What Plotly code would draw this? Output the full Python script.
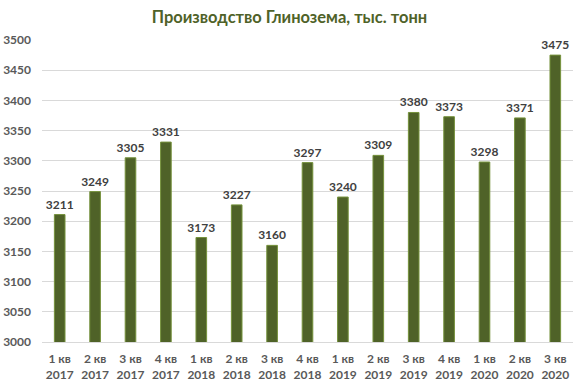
import plotly.graph_objects as go

quarters = ["1 кв", "2 кв", "3 кв", "4 кв", "1 кв", "2 кв", "3 кв", "4 кв",
            "1 кв", "2 кв", "3 кв", "4 кв", "1 кв", "2 кв", "3 кв"]
years = ["2017", "2017", "2017", "2017", "2018", "2018", "2018", "2018",
         "2019", "2019", "2019", "2019", "2020", "2020", "2020"]
values = [3211, 3249, 3305, 3331, 3173, 3227, 3160, 3297,
          3240, 3309, 3380, 3373, 3298, 3371, 3475]

categories = [f"{q}<br>{y}" for q, y in zip(quarters, years)]
x_idx = list(range(len(values)))

fig = go.Figure(go.Bar(
    x=x_idx, y=values, width=0.3,
    marker=dict(color="#4F6228", line=dict(color="#76923C", width=1)),
    text=[f"<b>{v}</b>" for v in values], textposition="outside",
    constraintext="none",
    textfont=dict(family="Lato", size=12, color="#404040"),
    cliponaxis=False,
))

fig.update_layout(
    width=579, height=385,
    margin=dict(l=42, r=6, t=40, b=43),
    paper_bgcolor="white", plot_bgcolor="white",
    title=dict(text="<b>Производство Глинозема, тыс. тонн</b>", x=0.5, xanchor="center",
               y=0.955, yanchor="middle",
               font=dict(family="Lato", size=16.5, color="#4F6228")),
    showlegend=False,
    font=dict(family="Lato", color="#595959"),
)
fig.update_xaxes(tickmode="array", tickvals=x_idx, ticktext=[f"<b>{c}</b>" for c in categories],
                 tickfont=dict(family="Lato", size=12, color="#595959"),
                 range=[-0.5, len(values) - 0.5], showline=True, linecolor="#D9D9D9",
                 showgrid=False, ticks="", automargin=False, ticklabelstandoff=6)
fig.update_yaxes(range=[3000, 3500], dtick=50, showgrid=True, gridcolor="#D9D9D9",
                 tickfont=dict(family="Lato", size=12, color="#595959"),
                 tickprefix="<b>", ticksuffix="</b>", zeroline=False,
                 ticklabelstandoff=10, automargin=False)

# remove the browser's default 8px body margin so the figure sits at the window origin
fig.write_html("out.html", config={"displayModeBar": False},
               post_script="document.body.style.margin='0';")
